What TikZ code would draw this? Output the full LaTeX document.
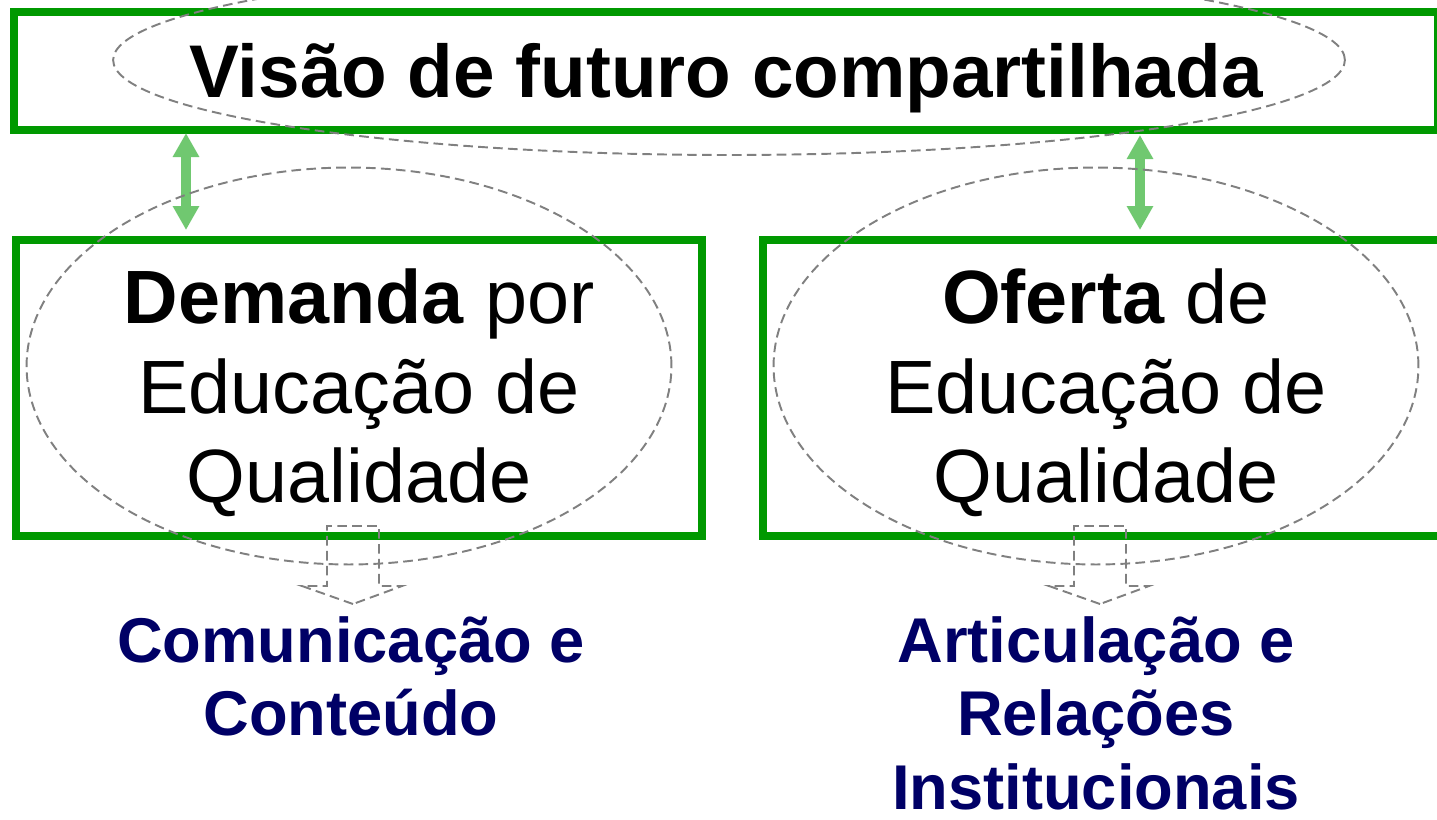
\documentclass[tikz,border=0pt]{standalone}
\usepackage{fontspec}
\setmainfont{Liberation Sans}
\usetikzlibrary{arrows.meta}
\usetikzlibrary{positioning}
\usetikzlibrary{shapes.geometric}
\definecolor{boxgreen}{RGB}{0,153,0}
\definecolor{linkgreen}{RGB}{112,200,112}
\definecolor{areablue}{RGB}{0,0,102}
\definecolor{halogray}{RGB}{128,128,128}

\begin{document}
\begin{tikzpicture}[x=0.02cm,y=-0.02cm,
  box/.style={draw=boxgreen,line width=0.16cm,inner sep=0pt},
  boxtext/.style={align=center,inner sep=0pt,font=\fontsize{43}{51}\selectfont},
  halo/.style={draw=halogray,dash pattern=on 5.5pt off 3pt,line width=1.1pt,ellipse,inner sep=0pt},
  area/.style={text=areablue,align=center,font=\bfseries\fontsize{36}{42}\selectfont},
  hollow/.style={draw=halogray,dash pattern=on 5.5pt off 3pt,line width=1.1pt},
  link/.style={{Triangle[width=0.5cm,length=0.48cm]}-{Triangle[width=0.5cm,length=0.48cm]},line width=0.2cm,draw=linkgreen}]
  \useasboundingbox (0,0) rectangle (1437,819);
  \clip (0,0) rectangle (1437,819);
  \node[box,minimum width=28.48cm,minimum height=2.36cm] (visao) at (726,71){};
  \node[box,minimum width=13.72cm,minimum height=5.92cm] (demanda) at (359,388){};
  \node[box,minimum width=13.72cm,minimum height=5.92cm] (oferta) at (1106,388){};
  \node[boxtext,yshift=-0.14cm,font=\bfseries\fontsize{42.5}{51}\selectfont] (visaotext) at (visao.center){Visão de futuro compartilhada};
  \node[boxtext,yshift=-0.1cm] (demandatext) at (demanda.center){\textbf{Demanda} por\\Educação de\\Qualidade};
  \node[boxtext,yshift=-0.1cm] (ofertatext) at (oferta.center){\textbf{Oferta} de\\Educação de\\Qualidade};
  \node[area,anchor=north] (comunicacao) at (351,610){Comunicação e\\Conteúdo};
  \node[area,anchor=north] (articulacao) at (1096,610){Articulação e\\Relações\\Institucionais};
  \coordinate (linkatop) at (186,133);
  \coordinate (linkabot) at (186,230);
  \coordinate (linkbtop) at (1140,135);
  \coordinate (linkbbot) at (1140,230);
  \draw[link](linkatop)--(linkabot);
  \draw[link](linkbtop)--(linkbbot);
  \node[halo,minimum width=24.64cm,minimum height=3.8cm] (visaohalo) at (729,60){};
  \node[halo,minimum width=12.9cm,minimum height=7.94cm] (demandahalo) at (349,366){};
  \node[halo,minimum width=12.9cm,minimum height=7.94cm] (ofertahalo) at (1096,366){};
  \coordinate (demandatip) at (353,604);
  \coordinate (ofertatip) at (1100,604);
  \draw[hollow](demandatip)--++(-51,-18)--++(25,0)--++(0,-60)--++(52,0)--++(0,60)--++(23,0)--cycle;
  \draw[hollow](ofertatip)--++(-51,-18)--++(25,0)--++(0,-60)--++(52,0)--++(0,60)--++(23,0)--cycle;
  %\draw[hollow](demanda.south)--(comunicacao.north);
\end{tikzpicture}
\end{document}
